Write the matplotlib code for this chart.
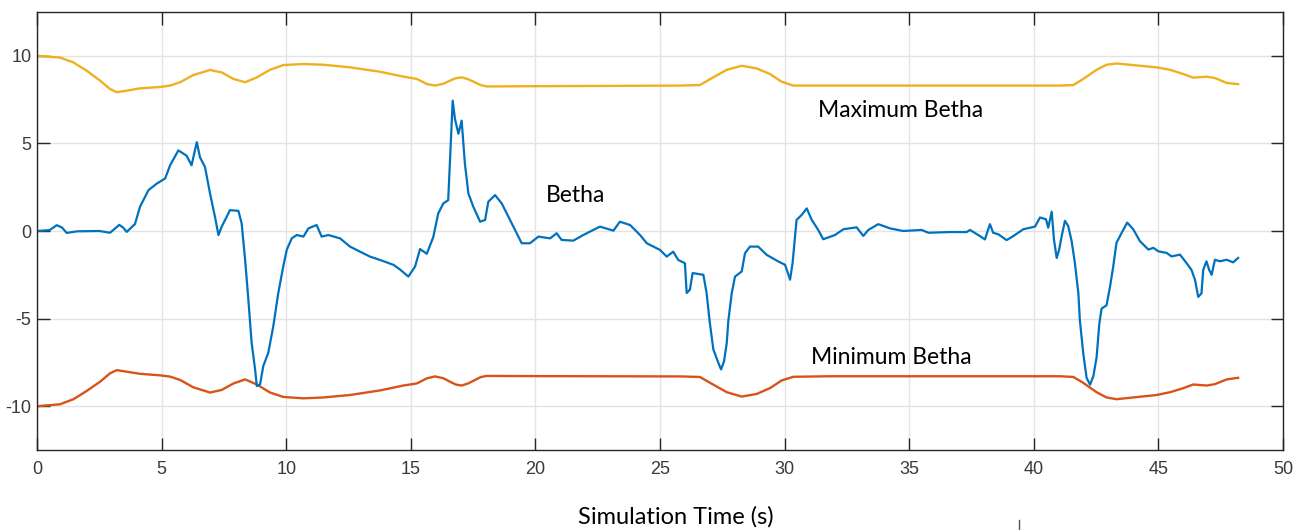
import matplotlib
matplotlib.use("Agg")
import matplotlib.pyplot as plt
from matplotlib.lines import Line2D

plt.rcParams["font.family"] = ["Liberation Sans", "DejaVu Sans"]
plt.rcParams["axes.unicode_minus"] = False

# steering angle signal (Betha) over simulation time
t_beta = [0, 0.5, 0.79, 1.0, 1.19, 1.6, 2.5, 2.93, 3.3, 3.45, 3.6, 3.93, 4.13, 4.47, 4.8,
          5.14, 5.34, 5.67, 6.0, 6.2, 6.41, 6.54, 6.74, 6.94, 7.14, 7.28, 7.41, 7.61, 7.74,
          8.08, 8.21, 8.35, 8.48, 8.61, 8.75, 8.82, 8.95, 9.08, 9.28, 9.48, 9.68, 9.88,
          10.02, 10.22, 10.42, 10.69, 10.89, 11.22, 11.42, 11.69, 12.16, 12.56, 12.96,
          13.36, 13.76, 14.3, 14.57, 14.9, 15.17, 15.37, 15.64, 15.9, 16.1, 16.3, 16.5,
          16.6, 16.68, 16.77, 16.91, 17.04, 17.17, 17.31, 17.51, 17.78, 17.98, 18.11,
          18.38, 18.65, 18.98, 19.25, 19.45, 19.78, 20.12, 20.59, 20.85, 21.05, 21.52,
          21.92, 22.59, 23.13, 23.39, 23.8, 24.2, 24.47, 25.0, 25.27, 25.53, 25.73, 26.0,
          26.07, 26.2, 26.31, 26.74, 26.87, 27.0, 27.14, 27.34, 27.45, 27.57, 27.68,
          27.74, 27.88, 28.01, 28.28, 28.41, 28.61, 28.94, 29.28, 29.75, 30.02, 30.22,
          30.32, 30.48, 30.68, 30.89, 31.09, 31.35, 31.55, 32.02, 32.36, 32.89, 33.16,
          33.36, 33.76, 34.23, 34.76, 35.5, 35.77, 36.64, 37.31, 37.44, 37.84, 38.04,
          38.24, 38.37, 38.58, 38.91, 39.18, 39.58, 40.05, 40.25, 40.49, 40.58, 40.72,
          40.81, 40.92, 41.02, 41.12, 41.25, 41.38, 41.52, 41.65, 41.79, 41.85, 41.99,
          42.12, 42.26, 42.39, 42.52, 42.63, 42.72, 42.92, 43.06, 43.19, 43.32, 43.53,
          43.75, 43.99, 44.26, 44.6, 44.8, 45.0, 45.33, 45.53, 45.87, 46.13, 46.33,
          46.47, 46.6, 46.73, 46.8, 46.93, 47.04, 47.14, 47.27, 47.47, 47.74, 48.0, 48.2]
beta = [0, 0.05, 0.33, 0.2, -0.11, -0.02, 0.0, -0.1, 0.35, 0.2, -0.05, 0.4, 1.38, 2.33, 2.7,
        3.0, 3.75, 4.6, 4.3, 3.75, 5.07, 4.2, 3.65, 2.15, 0.81, -0.23, 0.25, 0.81, 1.19,
        1.15, 0.44, -1.65, -3.92, -6.37, -7.9, -8.85, -8.75, -7.7, -6.95, -5.44, -3.54, -2.03,
        -1.08, -0.42, -0.23, -0.32, 0.15, 0.34, -0.32, -0.23, -0.42, -0.89, -1.18,
        -1.46, -1.65, -1.93, -2.2, -2.6, -2.03, -1.03, -1.3, -0.35, 1.0, 1.57, 1.76,
        4.98, 7.44, 6.4, 5.55, 6.3, 3.85, 2.14, 1.38, 0.53, 0.63, 1.67,
        2.05, 1.57, 0.63, -0.13, -0.7, -0.7, -0.32, -0.42, -0.13, -0.51, -0.55,
        -0.23, 0.25, 0.02, 0.53, 0.34, -0.23, -0.7, -1.08, -1.46, -1.18, -1.65, -1.84,
        -3.54, -3.35, -2.4, -2.5, -3.54, -5.24, -6.76, -7.52, -7.9, -7.43, -6.38,
        -5.15, -3.54, -2.6, -2.31, -1.27, -0.89, -0.89, -1.36, -1.74, -1.93, -2.78,
        -1.84, 0.63, 0.91, 1.29, 0.63, 0.06, -0.47, -0.23, 0.1, 0.21, -0.28,
        0.06, 0.39, 0.15, 0.0, 0.06, -0.1, -0.06, -0.06, 0.06, -0.29, -0.48,
        0.39, -0.1, -0.19, -0.52, -0.29, 0.1, 0.25, 0.77, 0.67, 0.19, 1.1,
        -0.48, -1.54, -1.06, -0.29, 0.58, 0.29, -0.58, -1.83, -3.56, -5.1, -7.03,
        -8.38, -8.77, -8.29, -7.23, -5.3, -4.43, -4.24, -3.18, -2.02, -0.67, -0.1,
        0.48, 0.1, -0.58, -1.06, -0.96, -1.16, -1.25, -1.45, -1.35, -1.83, -2.22,
        -2.79, -3.76, -3.56, -2.22, -1.73, -2.22, -2.5, -1.64, -1.73, -1.64, -1.79, -1.54]

# upper and lower limits
t_lim = [0, 0.92, 1.46, 1.99, 2.53, 2.93, 3.2, 3.6, 4.13, 4.95, 5.34, 5.74, 6.27, 6.94,
         7.41, 7.88, 8.35, 8.82, 9.35, 9.88, 10.69, 11.49, 12.56, 13.76, 14.7, 15.24,
         15.64, 15.97, 16.3, 16.57, 16.8, 17.04, 17.3, 17.58, 17.8, 18.05, 19.4, 25.8,
         26.6, 27.14, 27.68, 28.28, 28.88, 29.41, 29.88, 30.35, 31.82, 41.05, 41.59,
         41.99, 42.52, 42.92, 43.32, 43.99, 44.93, 45.47, 46.0, 46.4, 46.94, 47.27,
         47.74, 48.2]
beta_max = [10.0, 9.9, 9.62, 9.15, 8.58, 8.1, 7.92, 8.01, 8.14, 8.22, 8.3, 8.49, 8.9,
            9.19, 9.05, 8.68, 8.49, 8.77, 9.2, 9.47, 9.53, 9.49, 9.34, 9.09, 8.81, 8.68,
            8.39, 8.3, 8.4, 8.58, 8.72, 8.77, 8.66, 8.48, 8.33, 8.25, 8.26, 8.3, 8.33,
            8.77, 9.2, 9.43, 9.28, 8.96, 8.52, 8.3, 8.3, 8.3, 8.33, 8.68, 9.2, 9.49, 9.56,
            9.47, 9.34, 9.2, 8.96, 8.75, 8.81, 8.73, 8.45, 8.38]
beta_min = [-10.0, -9.89, -9.6, -9.13, -8.6, -8.12, -7.94, -8.03, -8.15, -8.24, -8.31,
            -8.5, -8.92, -9.22, -9.07, -8.7, -8.47, -8.76, -9.22, -9.47, -9.55, -9.5,
            -9.36, -9.1, -8.82, -8.7, -8.41, -8.3, -8.4, -8.6, -8.76, -8.82, -8.7, -8.5,
            -8.34, -8.27, -8.28, -8.3, -8.33, -8.77, -9.2, -9.45, -9.3, -8.97, -8.53,
            -8.32, -8.29, -8.29, -8.33, -8.67, -9.2, -9.5, -9.6, -9.5, -9.36, -9.2, -8.97,
            -8.76, -8.82, -8.74, -8.47, -8.38]

xticks = [0, 5, 10, 15, 20, 25, 30, 35, 40, 45, 50]
yticks = [-10, -5, 0, 5, 10]

fig = plt.figure(figsize=(13.05, 5.3), dpi=100)
ax = fig.add_axes([0.0284, 0.1509, 0.9547, 0.8265])

ax.plot(t_lim, beta_max, color="#EDB120", lw=1.7)
ax.plot(t_lim, beta_min, color="#D95319", lw=1.7)
ax.plot(t_beta, beta, color="#0072BD", lw=1.6)

ax.set_xlim(0, 50)
ax.set_ylim(-12.5, 12.5)
ax.set_xticks(xticks)
ax.set_yticks(yticks)
ax.grid(True, color="#e3e3e3", lw=1)
ax.set_axisbelow(True)
ax.tick_params(direction="in", length=9, width=1, color="#262626",
               top=True, right=True, labelsize=13, labelcolor="#3a3a3a")
ax.tick_params(axis="x", pad=8)
ax.tick_params(axis="y", pad=4)
for s in ax.spines.values():
    s.set_color("#262626")
    s.set_linewidth(1)

lab = dict(family="Lato", fontsize=16.5, color="black", va="center")
ax.text(31.34, 6.88, "Maximum Betha", **lab)
ax.text(20.43, 2.05, "Betha", **lab)
ax.text(31.06, -7.22, "Minimum Betha", **lab)

fig.text(0.5176, 0.0245, "Simulation Time (s)", family="Lato", fontsize=17,
         ha="center", va="center")
fig.add_artist(Line2D([1019 / 1305, 1019 / 1305], [0.0, 10 / 530], color="#555555", lw=1))

fig.savefig("out.png", dpi=100)
